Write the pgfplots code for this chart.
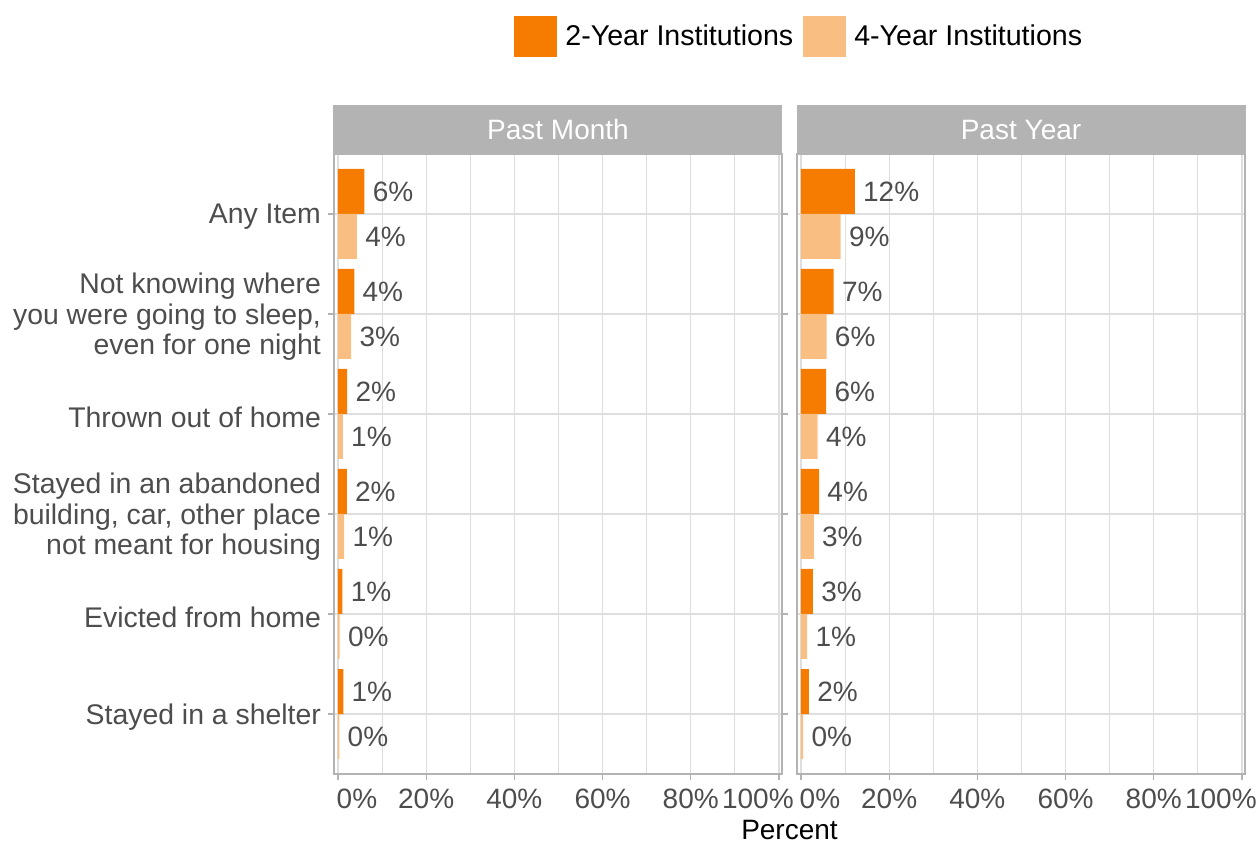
\documentclass[border=0pt]{standalone}
\usepackage{pgfplots}
\pgfplotsset{compat=1.18}
\usepackage{fontspec}
\setmainfont{Liberation Sans}
\definecolor{twoyr}{RGB}{245,124,0}
\definecolor{fouryr}{RGB}{249,191,130}
\definecolor{stripg}{RGB}{179,179,179}
\definecolor{gridg}{RGB}{222,222,222}
\definecolor{txtg}{RGB}{77,77,77}
\newcommand{\fs}{\fontsize{14}{15.25}\selectfont}
\newcommand{\fl}{\fontsize{14.2}{15.25}\selectfont}

\pgfplotstableread{
y x lab
-0.225 6.0 6
0.775 3.7 4
1.775 2.1 2
2.775 2.0 2
3.775 1.0 1
4.775 1.2 1
}\pmtwo
\pgfplotstableread{
y x lab
0.225 4.3 4
1.225 3.0 3
2.225 1.1 1
3.225 1.4 1
4.225 0.4 0
5.225 0.3 0
}\pmfour
\pgfplotstableread{
y x lab
-0.225 12.2 12
0.775 7.4 7
1.775 5.7 6
2.775 4.1 4
3.775 2.7 3
4.775 1.8 2
}\pytwo
\pgfplotstableread{
y x lab
0.225 9.0 9
1.225 5.8 6
2.225 3.8 4
3.225 2.9 3
4.225 1.4 1
5.225 0.5 0
}\pyfour

\pgfplotsset{
 panel/.style={
  scale only axis, width=224pt, height=310pt,
  xmin=-0.9, xmax=100.7, ymin=-0.6, ymax=5.6, y dir=reverse,
  xbar, bar width=0.45, bar shift=0pt,
  axis line style={draw=stripg, line width=1pt},
  tick align=outside, major tick length=3pt, minor tick length=0pt,
  tick style={draw=stripg, line width=0.6pt},
  xtick={0,20,40,60,80,100},
  xticklabels={\hspace*{19pt}0\%,20\%,40\%,60\%,80\%,100\%\hspace*{21pt}},
  minor x tick num=1,
  xmajorgrids, xminorgrids, ymajorgrids,
  major grid style={gridg, line width=0.6pt},
  minor grid style={gridg, line width=0.4pt},
  ytick={0,...,5},
  tick label style={font=\fs, text=txtg},
  xticklabel style={yshift=-1pt},
  point meta=explicit symbolic,
  nodes near coords={\pgfplotspointmeta\%},
  nodes near coords style={font=\fs, text=txtg, anchor=west, inner sep=0pt, xshift=4pt},
  title style={fill=stripg, text=white, font=\fs, minimum width=224.5pt,
    minimum height=24.5pt, inner sep=0pt, anchor=south, at={(0.5,1)}, yshift=-6.25pt},
 }
}

\begin{document}
\begin{tikzpicture}
\useasboundingbox (-167pt,-35pt) rectangle (462.5pt,387pt);
\begin{axis}[panel, title={Past Month},
  yticklabels={Any Item,{Not knowing where\\you were going to sleep,\\even for one night},Thrown out of home,{Stayed in an abandoned\\building, car, other place\\not meant for housing},Evicted from home,Stayed in a shelter},
  yticklabel style={align=right, font=\fl, yshift=-1.5pt},
  legend columns=2,
  legend style={at={(0.4018,1.2226)}, anchor=north west, draw=none, fill=none,
    inner sep=0pt, font=\fontsize{14.3}{15.25}\selectfont, text=black,
    nodes={inner sep=0pt},
    /tikz/every odd column/.append style={column sep=4pt},
    /tikz/every even column/.append style={column sep=5pt}},
]
\addplot[fill=twoyr, draw=none,
  legend image code/.code={\fill[twoyr] (0pt,-10.25pt) rectangle (21.5pt,10.25pt);}]
  table[x=x, y=y, meta=lab] {\pmtwo};
\addlegendentry{2-Year Institutions}
\addplot[fill=fouryr, draw=none,
  legend image code/.code={\fill[fouryr] (0pt,-10.25pt) rectangle (21.5pt,10.25pt);}]
  table[x=x, y=y, meta=lab] {\pmfour};
\addlegendentry{4-Year Institutions}
\end{axis}
\begin{axis}[panel, title={Past Year}, at={(231.5pt,0pt)}, anchor=south west,
  yticklabels={}, ytick style={draw=none},
  xlabel={Percent}, xlabel style={font=\fs, text=black, xshift=-115.75pt, yshift=1pt}]
\addplot[fill=twoyr, draw=none] table[x=x, y=y, meta=lab] {\pytwo};
\addplot[fill=fouryr, draw=none] table[x=x, y=y, meta=lab] {\pyfour};
\end{axis}
\end{tikzpicture}
\end{document}
